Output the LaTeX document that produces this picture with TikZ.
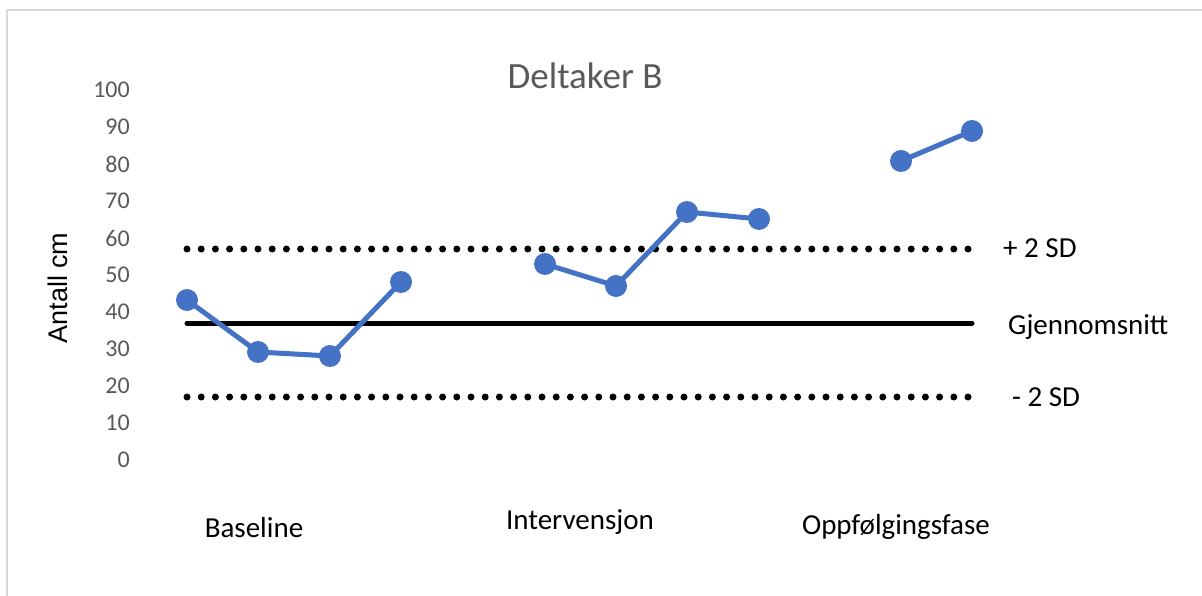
\documentclass[tikz,border=0pt]{standalone}
\usepackage{fontspec}
\setmainfont{Carlito}
\newfontfamily\axisfont{Liberation Sans}
\definecolor{seriesblue}{HTML}{4472C4}
\definecolor{labelgray}{HTML}{595959}
\definecolor{framegray}{HTML}{D9D9D9}
\tikzset{
  ticklabel/.style={anchor=east, text=labelgray, font=\fontsize{24}{28}\selectfont, inner sep=0pt},
  phaselabel/.style={text=black, font=\fontsize{29}{34}\selectfont, inner sep=0pt},
  series/.style={draw=seriesblue, line width=5pt, line join=round},
  marker/.style={circle, fill=seriesblue, minimum size=22pt, inner sep=0pt},
  sdline/.style={draw=black, line width=7pt, line cap=round, dash pattern=on 0pt off 14.2pt},
  meanline/.style={draw=black, line width=5pt, line cap=round},
}
\begin{document}
\begin{tikzpicture}[x=1pt, y=-1pt]
  \useasboundingbox (0,0) rectangle (1202,596);
  \fill[white] (0,0) rectangle (1202,596);
  % chart frame (only the top and left edges fall inside the crop)
  \draw[framegray, line width=1.5pt] (7,596) -- (7,10) -- (1202,10);

  % title
  \node[text=labelgray, font=\fontsize{37}{42}\selectfont, inner sep=0pt] (title) at (585,76) {Deltaker B};

  % value axis labels
  \foreach \v in {0,10,...,100} {
    \node[ticklabel] (tick\v) at (130,{460-3.7*\v}) {\v};
  }
  \node[rotate=90, font=\axisfont\fontsize{27}{31}\selectfont, inner sep=0pt] (ytitle) at (58,288) {Antall cm};

  % reference lines
  \coordinate (sdhiA) at (187,249);  \coordinate (sdhiB) at (968,249);
  \coordinate (meanA) at (187,323);  \coordinate (meanB) at (972,323);
  \coordinate (sdloA) at (187,397);  \coordinate (sdloB) at (968,397);
  \draw[sdline] (sdhiA) -- (sdhiB);
  \draw[meanline] (meanA) -- (meanB);
  \draw[sdline] (sdloA) -- (sdloB);

  \node[phaselabel, anchor=west] (plus2sd) at (1003,248) {+ 2 SD};
  \node[phaselabel, anchor=west] (mean) at (1008,327) {Gjennomsnitt};
  \node[phaselabel, anchor=west] (minus2sd) at (1012,397) {- 2 SD};

  % measurements
  \coordinate (b1) at (187,300);
  \coordinate (b2) at (258,352);
  \coordinate (b3) at (330,356);
  \coordinate (b4) at (401,282);
  \coordinate (i1) at (545,264);
  \coordinate (i2) at (616,286);
  \coordinate (i3) at (687,212);
  \coordinate (i4) at (759,219);
  \coordinate (f1) at (901,161);
  \coordinate (f2) at (972,131);
  \draw[series] (b1) -- (b2) -- (b3) -- (b4);
  \draw[series] (i1) -- (i2) -- (i3) -- (i4);
  \draw[series] (f1) -- (f2);
  \foreach \p in {b1,b2,b3,b4,i1,i2,i3,i4,f1,f2} {
    \node[marker] (m\p) at (\p) {};
  }

  % phase labels
  \node[phaselabel] (baseline) at (254,528) {Baseline};
  \node[phaselabel] (intervensjon) at (580,522) {Intervensjon};
  \node[phaselabel] (oppfolging) at (896,527) {Oppfølgingsfase};
\end{tikzpicture}
\end{document}
